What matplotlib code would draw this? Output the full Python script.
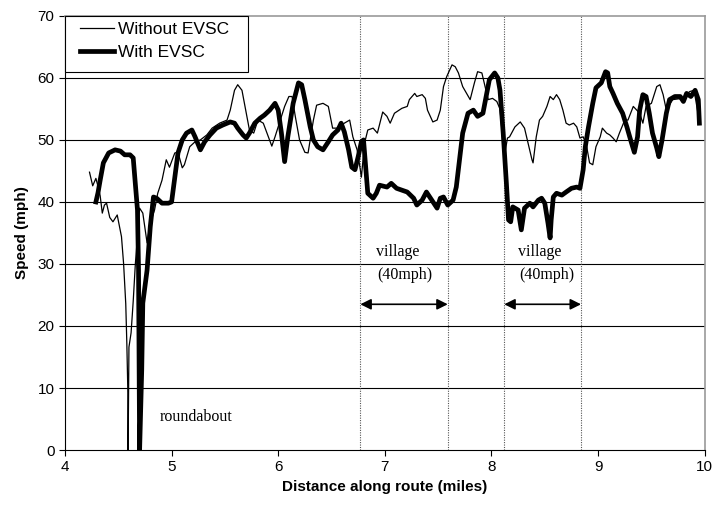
import numpy as np
import matplotlib.pyplot as plt
from matplotlib.patches import Rectangle

plt.rcParams["font.family"] = ["Liberation Sans", "DejaVu Sans"]

# Speed traces along the route (distance in miles, speed in mph)
dist_without = [4.23, 4.26, 4.29, 4.31, 4.33, 4.35, 4.37, 4.39, 4.42, 4.45, 4.49, 4.53,
                4.55, 4.57, 4.58, 4.59, 4.592, 4.60, 4.62, 4.64, 4.66, 4.70, 4.73, 4.77,
                4.80, 4.84, 4.87, 4.91, 4.95, 4.98, 5.03, 5.06, 5.10, 5.12, 5.17, 5.22,
                5.27, 5.33, 5.38, 5.45, 5.52, 5.55, 5.59, 5.62, 5.66, 5.70, 5.73, 5.77,
                5.81, 5.86, 5.89, 5.94, 5.97, 6.02, 6.06, 6.10, 6.13, 6.16, 6.20, 6.25,
                6.28, 6.33, 6.36, 6.42, 6.47, 6.51, 6.56, 6.62, 6.67, 6.70, 6.74, 6.77,
                6.78, 6.81, 6.84, 6.89, 6.93, 6.98, 7.02, 7.05, 7.09, 7.16, 7.21, 7.23,
                7.28, 7.30, 7.35, 7.38, 7.40, 7.45, 7.49, 7.52, 7.55, 7.58, 7.63, 7.66,
                7.69, 7.73, 7.80, 7.84, 7.87, 7.91, 7.94, 7.97, 8.01, 8.05, 8.08, 8.12,
                8.15, 8.17, 8.22, 8.27, 8.31, 8.34, 8.38, 8.39, 8.42, 8.45, 8.48, 8.52,
                8.55, 8.58, 8.61, 8.64, 8.67, 8.70, 8.73, 8.77, 8.80, 8.83, 8.86, 8.89,
                8.92, 8.95, 8.98, 9.02, 9.04, 9.08, 9.11, 9.14, 9.17, 9.20, 9.25, 9.28,
                9.33, 9.39, 9.42, 9.45, 9.50, 9.55, 9.58, 9.61, 9.64, 9.70, 9.79, 9.86,
                9.90, 9.95]
speed_without = [44.8, 42.6, 43.8, 42.5, 41.0, 38.2, 39.5, 39.8, 37.5, 36.8, 37.9, 34.4,
                 30.0, 23.6, 17.3, 9.2, 0.0, 16.6, 18.9, 24.0, 30.0, 39.0, 38.2, 33.4,
                 36.6, 38.7, 41.4, 43.5, 46.8, 45.6, 47.9, 48.0, 45.5, 46.0, 48.9, 49.7,
                 50.0, 50.8, 51.9, 52.7, 53.2, 54.8, 58.0, 58.9, 58.0, 54.3, 51.6, 51.1,
                 53.2, 52.7, 51.3, 49.0, 50.5, 53.2, 55.4, 57.0, 57.0, 53.8, 50.0, 48.0,
                 47.9, 53.2, 55.6, 55.9, 55.4, 51.9, 51.9, 52.7, 53.2, 50.5, 48.4, 45.2,
                 44.0, 49.5, 51.6, 51.9, 51.1, 54.5, 53.8, 52.7, 54.3, 55.1, 55.4, 56.5,
                 57.5, 57.0, 57.3, 56.7, 54.8, 52.9, 53.2, 54.8, 58.6, 60.2, 62.1, 61.8,
                 60.8, 58.6, 56.5, 59.2, 61.0, 60.8, 58.6, 56.5, 56.7, 56.2, 55.0, 47.3,
                 50.3, 50.5, 52.1, 52.9, 51.9, 49.7, 46.8, 46.3, 50.5, 53.2, 53.8, 55.4,
                 57.0, 56.5, 57.3, 56.5, 54.8, 52.7, 52.4, 52.7, 52.1, 50.3, 50.5, 49.2,
                 46.3, 46.0, 48.9, 50.5, 51.9, 51.1, 50.8, 50.3, 49.7, 51.1, 53.2, 53.2,
                 55.4, 54.3, 52.7, 55.4, 55.9, 58.6, 58.9, 57.3, 54.8, 56.5, 56.7, 57.8,
                 58.0, 53.0]

dist_with = [4.29, 4.31, 4.33, 4.36, 4.41, 4.47, 4.52, 4.56, 4.61, 4.64, 4.66, 4.68,
             4.69, 4.70, 4.72, 4.73, 4.77, 4.80, 4.83, 4.86, 4.91, 4.97, 5.00, 5.03,
             5.06, 5.10, 5.14, 5.19, 5.22, 5.27, 5.31, 5.36, 5.42, 5.48, 5.55, 5.59,
             5.62, 5.67, 5.70, 5.73, 5.78, 5.83, 5.87, 5.92, 5.97, 6.00, 6.03, 6.06,
             6.09, 6.14, 6.19, 6.22, 6.25, 6.30, 6.33, 6.37, 6.42, 6.47, 6.51, 6.56,
             6.59, 6.62, 6.66, 6.69, 6.72, 6.75, 6.78, 6.80, 6.83, 6.84, 6.89, 6.92,
             6.95, 7.02, 7.06, 7.11, 7.21, 7.27, 7.30, 7.35, 7.39, 7.44, 7.49, 7.52,
             7.55, 7.59, 7.64, 7.67, 7.70, 7.73, 7.78, 7.83, 7.87, 7.92, 7.95, 7.98,
             8.03, 8.06, 8.08, 8.11, 8.14, 8.16, 8.18, 8.20, 8.25, 8.28, 8.31, 8.36,
             8.39, 8.44, 8.47, 8.50, 8.53, 8.55, 8.56, 8.58, 8.61, 8.66, 8.70, 8.75,
             8.80, 8.83, 8.86, 8.88, 8.91, 8.95, 8.98, 9.03, 9.07, 9.09, 9.11, 9.14,
             9.18, 9.23, 9.27, 9.31, 9.34, 9.37, 9.39, 9.42, 9.45, 9.48, 9.51, 9.55,
             9.57, 9.60, 9.64, 9.67, 9.72, 9.77, 9.80, 9.83, 9.87, 9.91, 9.94, 9.95]
speed_with = [40.0, 41.5, 43.5, 46.3, 47.9, 48.4, 48.2, 47.6, 47.6, 47.1, 43.0, 38.7,
              29.0, 0.0, 13.0, 23.7, 29.0, 36.0, 40.8, 40.6, 39.8, 39.8, 40.0, 44.0,
              47.9, 50.0, 51.1, 51.6, 50.5, 48.4, 49.7, 50.8, 51.9, 52.4, 52.9, 52.7,
              51.9, 50.8, 50.3, 51.1, 52.7, 53.5, 54.0, 54.8, 55.9, 54.8, 51.1, 46.5,
              50.5, 55.9, 59.2, 58.9, 56.5, 52.1, 50.0, 48.9, 48.4, 49.7, 50.8, 51.6,
              52.7, 51.3, 48.4, 45.6, 45.2, 47.3, 49.7, 50.0, 43.5, 41.4, 40.6, 41.4,
              42.7, 42.4, 43.0, 42.2, 41.6, 40.6, 39.5, 40.3, 41.6, 40.3, 39.0, 40.6,
              40.8, 39.5, 40.3, 42.4, 46.8, 51.1, 54.3, 54.8, 53.8, 54.3, 57.0, 59.7,
              60.8, 60.0, 58.0, 51.1, 43.0, 37.1, 36.8, 39.2, 38.7, 35.5, 39.0, 39.8,
              39.2, 40.3, 40.6, 39.8, 36.6, 34.2, 37.1, 40.8, 41.4, 41.1, 41.6, 42.2,
              42.4, 42.2, 45.2, 48.9, 52.1, 55.9, 58.4, 59.2, 61.0, 60.8, 58.6, 57.5,
              55.9, 54.3, 52.1, 49.7, 48.0, 50.5, 54.8, 57.3, 57.0, 54.3, 51.1, 48.7,
              47.3, 50.0, 54.3, 56.5, 57.0, 57.0, 56.2, 57.5, 57.0, 58.0, 56.5, 52.7]

# Village limits (start, end) in miles and where their notes sit
villages = [(6.77, 7.59), (8.12, 8.84)]
village_label_x = [7.12, 8.45]

fig = plt.figure(figsize=(7.14, 5.12), dpi=100)
ax = fig.add_axes([0.091, 0.121, 0.896, 0.848])

for y in range(10, 70, 10):
    ax.axhline(y, color="black", linewidth=0.8, zorder=1)

for x0, x1 in villages:
    for xv in (x0, x1):
        ax.axvline(xv, color="#555555", linestyle=(0, (1, 1.2)), linewidth=0.8, zorder=1)

ax.plot(dist_without, speed_without, color="black", linewidth=0.9,
        label="Without EVSC", zorder=3)
ax.plot(dist_with, speed_with, color="black", linewidth=3.4,
        label="With EVSC", zorder=4)

serif = ["Liberation Serif", "DejaVu Serif"]
for (x0, x1), lx in zip(villages, village_label_x):
    ax.annotate("", xy=(x0, 23.5), xytext=(x1, 23.5),
                arrowprops=dict(arrowstyle="<|-|>", color="black", lw=1.2,
                                mutation_scale=16, shrinkA=0, shrinkB=0))
    ax.text(lx, 31.9, "village", family=serif, fontsize=11.5, ha="center", va="center")
    ax.text(lx + 0.065, 28.3, "(40mph)", family=serif, fontsize=11.5,
            ha="center", va="center")

ax.text(4.89, 5.3, "roundabout", family=serif, fontsize=11.5, ha="left", va="center")

ax.set_xlim(4, 10)
ax.set_ylim(0, 70)
ax.set_xticks(range(4, 11))
ax.set_yticks(range(0, 71, 10))
ax.tick_params(direction="out", length=4, width=0.8, labelsize=11, colors="black")
for side in ("top", "right"):
    ax.spines[side].set_color("#999999")
    ax.spines[side].set_linewidth(1.2)
for side in ("left", "bottom"):
    ax.spines[side].set_color("black")
    ax.spines[side].set_linewidth(0.8)

ax.set_xlabel("Distance along route (miles)", fontsize=11, fontweight="bold", labelpad=4)
ax.set_ylabel("Speed (mph)", fontsize=11, fontweight="bold", labelpad=6)

# legend box: white panel in the top-left corner, entries placed inside it
ax.add_patch(Rectangle((0, 0.871), 0.286, 0.129, transform=ax.transAxes,
                       facecolor="white", edgecolor="black", linewidth=0.8,
                       zorder=5, clip_on=False))
leg = ax.legend(loc="upper left", bbox_to_anchor=(0.024, 0.986), borderaxespad=0,
                fontsize=12.5, frameon=False, handlelength=1.95, handletextpad=0.2,
                borderpad=0, labelspacing=0.45)
leg.set_zorder(6)

fig.savefig("out.png", dpi=100)
